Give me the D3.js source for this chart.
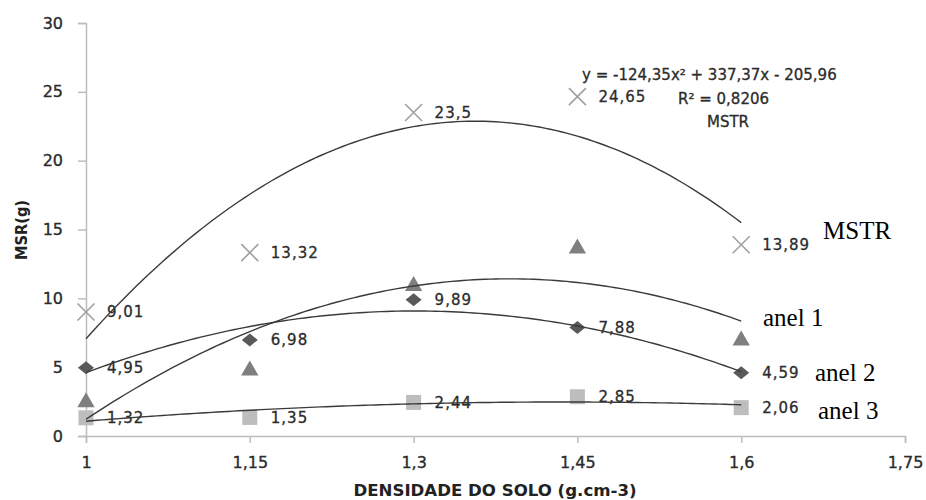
<!DOCTYPE html>
<html><head><meta charset="utf-8">
<script src="https://cdn.jsdelivr.net/npm/d3@7"></script>
<style>
html,body{margin:0;padding:0;background:#fff;}
svg{display:block;}
</style></head>
<body>
<svg id="chart" width="926" height="500"></svg>
<script>
const densities = [1, 1.15, 1.3, 1.45, 1.6];
const mstr  = [9.01, 13.32, 23.5, 24.65, 13.89];
const anel1 = [2.56, 4.87, 11.0, 13.73, 7.04];
const anel2 = [4.95, 6.98, 9.89, 7.88, 4.59];
const anel3 = [1.32, 1.35, 2.44, 2.85, 2.06];
const xTicks = [1, 1.15, 1.3, 1.45, 1.6, 1.75];
const xTickLabels = ["1", "1,15", "1,3", "1,45", "1,6", "1,75"];
const yTicks = [0, 5, 10, 15, 20, 25, 30];
const seriesNames = ["MSTR", "anel 1", "anel 2", "anel 3"];
const equationText = "y = -124,35x\u00B2 + 337,37x  - 205,96";
const r2Text = "R\u00B2 = 0,8206";

const svg = d3.select("#chart");
const x = d3.scaleLinear().domain([1, 1.75]).range([86, 905]);
const y = d3.scaleLinear().domain([0, 30]).range([436, 23]);

const fmt = v => String(v).replace(".", ",");
const font = "'DejaVu Sans', Verdana, sans-serif";
const textCol = "#2b2b2b";

// axes
const xAxis = d3.axisBottom(x).tickValues(xTicks)
  .tickFormat((d, i) => xTickLabels[i]).tickSize(7).tickPadding(14);
const yAxis = d3.axisLeft(y).tickValues(yTicks).tickSize(8).tickPadding(15);

const gx = svg.append("g").attr("transform", "translate(0,436)").call(xAxis);
const gy = svg.append("g").attr("transform", "translate(86,0)").call(yAxis);
[gx, gy].forEach(g => {
  g.select(".domain").attr("stroke", "#bdbdbd").attr("stroke-width", 1.5);
  g.selectAll(".tick line").attr("stroke", "#bdbdbd").attr("stroke-width", 1.5);
  g.selectAll(".tick text").attr("fill", textCol)
    .attr("stroke", textCol).attr("stroke-width", 0.35)
    .style("font-family", font).style("font-size", "16px");
});

// axis titles
svg.append("text").attr("x", 495).attr("y", 496)
  .attr("text-anchor", "middle").attr("fill", "#222")
  .attr("textLength", 283).attr("lengthAdjust", "spacingAndGlyphs")
  .style("font-family", font).style("font-size", "16px")
  .style("font-weight", "bold").text("DENSIDADE DO SOLO (g.cm-3)");
svg.append("text").attr("transform", "translate(27,230) rotate(-90)")
  .attr("text-anchor", "middle").attr("fill", "#222")
  .attr("textLength", 60).attr("lengthAdjust", "spacingAndGlyphs")
  .style("font-family", font).style("font-size", "16px")
  .style("font-weight", "bold").text("MSR(g)");

// quadratic least squares fit
function quadFit(xs, ys) {
  const n = xs.length;
  let s = [0,0,0,0,0], t = [0,0,0];
  for (let i = 0; i < n; i++) {
    let p = 1;
    for (let k = 0; k < 5; k++) { s[k] += p; if (k < 3) t[k] += p * ys[i]; p *= xs[i]; }
  }
  const A = [[s[0], s[1], s[2], t[0]], [s[1], s[2], s[3], t[1]], [s[2], s[3], s[4], t[2]]];
  for (let i = 0; i < 3; i++) {
    for (let j = i + 1; j < 3; j++) {
      const f = A[j][i] / A[i][i];
      for (let k = i; k < 4; k++) A[j][k] -= f * A[i][k];
    }
  }
  const c = [0,0,0];
  for (let i = 2; i >= 0; i--) {
    let v = A[i][3];
    for (let k = i + 1; k < 3; k++) v -= A[i][k] * c[k];
    c[i] = v / A[i][i];
  }
  return xv => c[0] + c[1] * xv + c[2] * xv * xv;
}

const series = [
  {name: "MSTR", vals: mstr, shape: "x", color: "#a0a0a0", labels: true},
  {name: "anel 1", vals: anel1, shape: "tri", color: "#7f7f7f", labels: false},
  {name: "anel 2", vals: anel2, shape: "dia", color: "#595959", labels: true},
  {name: "anel 3", vals: anel3, shape: "sq", color: "#bdbdbd", labels: true}
];

const symbolPath = {
  tri: d3.symbol().type(d3.symbolTriangle).size(130)(),
  dia: "M0,-6.5L8,0L0,6.5L-8,0Z",
  sq: "M-7.5,-7.5H7.5V7.5H-7.5Z",
  x: "M-8.5,-8.5L8.5,8.5M-8.5,8.5L8.5,-8.5"
};

// markers
series.forEach(s => {
  const g = svg.append("g");
  g.selectAll("path").data(s.vals).join("path")
    .attr("transform", (d, i) => `translate(${x(densities[i])},${y(d) + (s.shape === "tri" ? 1.5 : 0)})`)
    .attr("d", symbolPath[s.shape])
    .attr("fill", s.shape === "x" ? "none" : s.color)
    .attr("stroke", s.shape === "x" ? s.color : "none")
    .attr("stroke-width", 1.6);
});

// data labels
series.filter(s => s.labels).forEach(s => {
  svg.append("g").selectAll("text").data(s.vals).join("text")
    .attr("x", (d, i) => x(densities[i]) + 21)
    .attr("y", d => y(d))
    .attr("dy", "0.36em")
    .attr("fill", textCol).attr("stroke", textCol).attr("stroke-width", 0.3)
    .style("font-family", font).style("font-size", "15px").style("letter-spacing", "1px")
    .text(d => fmt(d));
});

// trendlines
const line = d3.line().x(d => x(d[0])).y(d => y(d[1])).curve(d3.curveLinear);
const xs = d3.range(1, 1.6001, 0.005);
series.forEach(s => {
  const f = quadFit(densities, s.vals);
  svg.append("path").datum(xs.map(v => [v, f(v)]))
    .attr("d", line).attr("fill", "none")
    .attr("stroke", "#3a3a3a").attr("stroke-width", 1.4);
});

// equation
const eq = [[equationText, 582, 80, "start"], [r2Text, 678, 104, "start"], [seriesNames[0], 728, 127, "middle"]];
svg.append("g").selectAll("text").data(eq).join("text")
  .attr("x", d => d[1]).attr("y", d => d[2]).attr("text-anchor", d => d[3])
  .attr("fill", textCol).attr("stroke", textCol).attr("stroke-width", 0.3)
  .style("font-family", font).style("font-size", "15px").text(d => d[0]);

// serif series labels
const serifPos = [[823, 230], [763, 317], [815, 372], [818, 410]];
svg.append("g").selectAll("text").data(seriesNames).join("text")
  .attr("x", (d, i) => serifPos[i][0]).attr("y", (d, i) => serifPos[i][1])
  .attr("dy", "0.35em").attr("fill", "#000")
  .style("font-family", "'Liberation Serif', 'Times New Roman', serif").style("font-size", "25px")
  .text(d => d);
</script>
</body></html>
